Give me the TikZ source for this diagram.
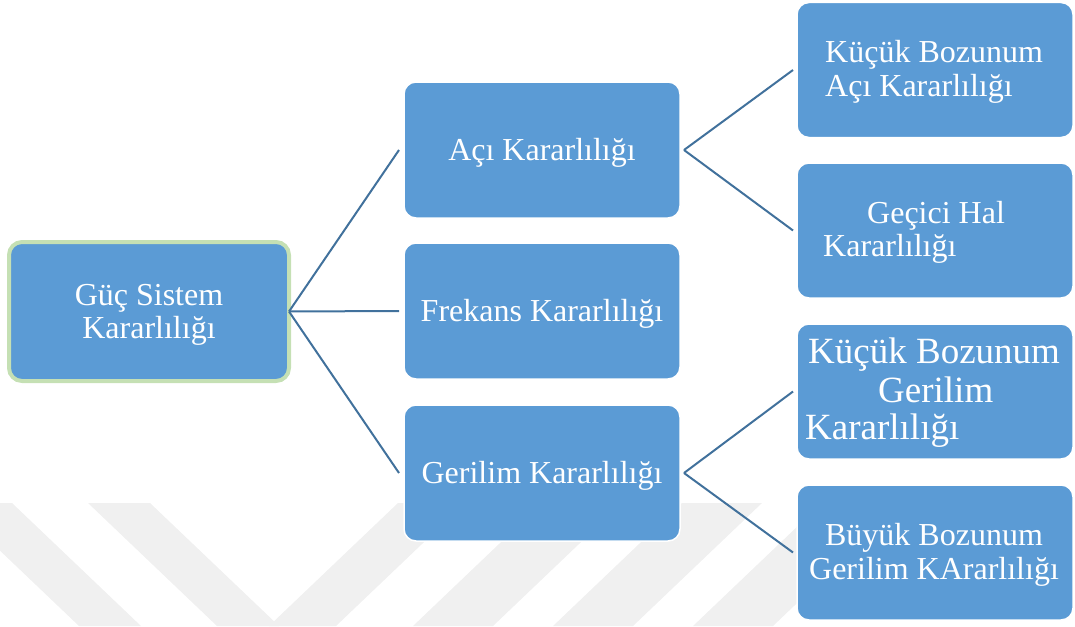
\documentclass[tikz,border=0pt]{standalone}
\usepackage{fontspec}
\setmainfont{Liberation Serif}
\definecolor{boxblue}{RGB}{91,155,213}
\definecolor{linkblue}{RGB}{65,113,156}
\definecolor{rootrim}{RGB}{197,224,180}
\definecolor{wm}{RGB}{240,240,240}
\begin{document}
\begin{tikzpicture}[x=1pt,y=-1pt,
  box/.style={draw=white, line width=1.5pt, fill=boxblue, rounded corners=12pt,
    minimum width=276pt, minimum height=136pt, inner sep=0pt, outer sep=0pt},
  rbox/.style={box, minimum height=135pt},
  rootbox/.style={draw=rootrim, line width=4pt, fill=boxblue, rounded corners=13pt,
    minimum width=280pt, minimum height=139pt, inner sep=0pt, outer sep=0pt},
  txt/.style={text=white, inner sep=0pt, font=\fontsize{32}{34}\selectfont},
  bigtxt/.style={txt, font=\fontsize{37}{39}\selectfont},
  conn/.style={draw=linkblue, line width=2pt},
  band/.style={fill=wm}]
\useasboundingbox (0,0) rectangle (1075,626);
% watermark stripes
\begin{scope}
\clip (0,503) rectangle (1075,626);
\fill[band] (-50,503) -- (12,503) -- (141,626) -- (79,626) -- cycle;
\fill[band] (88,503) -- (150,503) -- (279,626) -- (217,626) -- cycle;
\fill[band] (269,626) -- (336,626) -- (465,503) -- (398,503) -- cycle;
\fill[band] (413,626) -- (493,626) -- (622,503) -- (542,503) -- cycle;
\fill[band] (553,626) -- (633,626) -- (762,503) -- (682,503) -- cycle;
\fill[band] (693,626) -- (773,626) -- (902,503) -- (822,503) -- cycle;
\end{scope}
% boxes
\node[rootbox] (root) at (149,311.5) {};
\node[box] (aci) at (542,150) {};
\node[box] (frek) at (542,311) {};
\node[box] (ger) at (542,473) {};
\node[rbox] (kba) at (935,70) {};
\node[rbox] (gec) at (935,230.5) {};
\node[rbox] (kbg) at (935,391.5) {};
\node[rbox] (bbg) at (935,552.5) {};
% texts
\node[txt, anchor=base] (root1) at (149,305) {Güç Sistem};
\node[txt, anchor=base] (root2) at (149,338) {Kararlılığı};
\node[txt, anchor=base] (acit) at (542,160) {Açı Kararlılığı};
\node[txt, anchor=base] (frekt) at (542,321) {Frekans Kararlılığı};
\node[txt, anchor=base] (gert) at (542,483) {Gerilim Kararlılığı};
\node[txt, anchor=base west] (kba1) at (825,63) {Küçük Bozunum};
\node[txt, anchor=base west] (kba2) at (825,96) {Açı Kararlılığı};
\node[txt, anchor=base west] (gec1) at (867,223) {Geçici Hal};
\node[txt, anchor=base west] (gec2) at (823,256) {Kararlılığı};
\node[bigtxt, anchor=base west] (kbg1) at (808,363) {Küçük Bozunum};
\node[bigtxt, anchor=base west] (kbg2) at (878,402) {Gerilim};
\node[bigtxt, anchor=base west] (kbg3) at (805,439) {Kararlılığı};
\node[txt, anchor=base] (bbg1) at (934,545) {Büyük Bozunum};
\node[txt, anchor=base] (bbg2) at (934,579) {Gerilim KArarlılığı};
% connectors
\draw[conn] (root.east) -- ([xshift=-5pt]aci.west);
\draw[conn] (root.east) -- ([xshift=-5pt]frek.west);
\draw[conn] (root.east) -- ([xshift=-5pt]ger.west);
\draw[conn] ([xshift=4pt]aci.east) -- ([xshift=-4pt]kba.west);
\draw[conn] ([xshift=4pt]aci.east) -- ([xshift=-4pt]gec.west);
\draw[conn] ([xshift=4pt]ger.east) -- ([xshift=-4pt]kbg.west);
\draw[conn] ([xshift=4pt]ger.east) -- ([xshift=-4pt]bbg.west);
\end{tikzpicture}
\end{document}
